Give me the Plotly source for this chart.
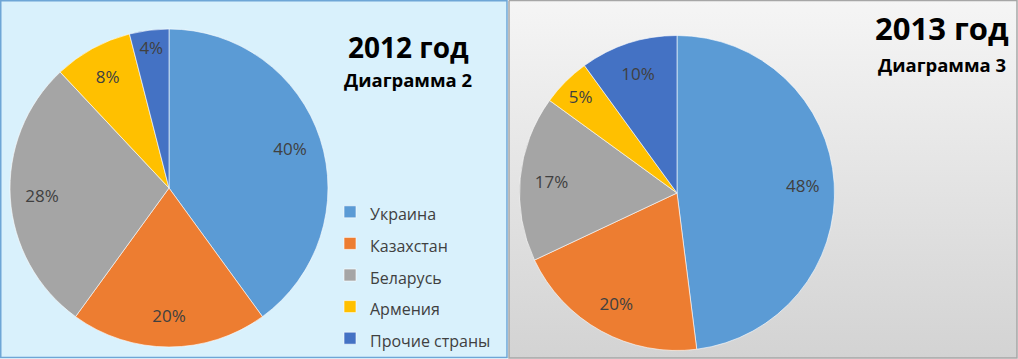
import plotly.graph_objects as go

# ---- data ----
countries = ["Украина", "Казахстан", "Беларусь", "Армения", "Прочие страны"]
share_2012 = [40, 20, 28, 8, 4]
share_2013 = [48, 20, 17, 5, 10]
colors = ["#5b9bd5", "#ed7d31", "#a5a5a5", "#ffc000", "#4472c4"]
titles = ["2012 год", "2013 год"]
subtitles = ["Диаграмма 2", "Диаграмма 3"]

W, H = 1018, 359
FONT = "Open Sans, Noto Sans, DejaVu Sans, sans-serif"
TXT = "#404040"

# legend labels: small rendered text, but large legend font for tall rows
leg_labels = [f'<span style="font-size:16px">{c}</span>' for c in countries]

fig = go.Figure()

# right panel gradient background
fig.add_trace(go.Scatter(
    x=[509, 1017, 1017, 509, 509], y=[0.5, 0.5, 358, 358, 0.5],
    mode="lines", fill="toself",
    fillgradient=dict(type="vertical", colorscale=[[0, "#d3d3d3"], [1, "#f5f5f5"]],
                      start=358, stop=0),
    line=dict(color="#a6a6a6", width=1.5),
    hoverinfo="skip", showlegend=False, xaxis="x", yaxis="y"))


def pie_domain(cx, cy, r):
    return dict(x=[(cx - r) / W, (cx + r) / W], y=[(H - cy - r) / H, (H - cy + r) / H])


for i, (vals, dom, leg) in enumerate([
        (share_2012, pie_domain(169, 188, 159), "legend"),
        (share_2013, pie_domain(677, 193, 157.5), "legend2")]):
    # coloured slices
    fig.add_trace(go.Pie(
        labels=leg_labels, values=vals, sort=False, direction="clockwise", rotation=0,
        marker=dict(colors=colors, line=dict(color="rgba(255,255,255,0.6)", width=1)),
        textinfo="none", domain=dom, legend=leg, hoverinfo="label+percent"))
    # transparent ring carrying the data labels near the rim
    fig.add_trace(go.Pie(
        labels=leg_labels, values=vals, sort=False, direction="clockwise", rotation=0,
        hole=0.6, showlegend=False,
        marker=dict(colors=["rgba(0,0,0,0)"] * len(vals), line=dict(width=0)),
        texttemplate="%{value}%", textposition="inside", insidetextorientation="horizontal",
        textfont=dict(family=FONT, size=17, color=TXT),
        domain=dom, hoverinfo="skip"))

for k, (tx, ty_title, ty_sub, size) in enumerate([(408, 47, 80, 28), (942, 28, 65, 31)]):
    fig.add_annotation(x=tx / W, y=1 - ty_title / H, xref="paper", yref="paper",
                       text=f"<b>{titles[k]}</b>", showarrow=False,
                       font=dict(family=FONT, size=size, color="#000000"),
                       xanchor="center", yanchor="middle")
    fig.add_annotation(x=tx / W, y=1 - ty_sub / H, xref="paper", yref="paper",
                       text=f"<b>{subtitles[k]}</b>", showarrow=False,
                       font=dict(family=FONT, size=18.5, color="#000000"),
                       xanchor="center", yanchor="middle")

legend_common = dict(font=dict(family=FONT, size=22, color=TXT), bgcolor="rgba(0,0,0,0)",
                     xanchor="left", yanchor="top", itemwidth=30, tracegroupgap=0)

fig.update_layout(
    width=W, height=H, margin=dict(l=0, r=0, t=0, b=0, autoexpand=False),
    paper_bgcolor="#ffffff", plot_bgcolor="rgba(0,0,0,0)",
    showlegend=True,
    xaxis=dict(range=[0, W], visible=False, domain=[0, 1], fixedrange=True),
    yaxis=dict(range=[H, 0], visible=False, domain=[0, 1], fixedrange=True),
    legend=dict(x=(370 - 40) / W, y=1 - 191 / H, **legend_common),
    legend2=dict(x=(882 - 40) / W, y=1 - 191 / H, **legend_common),
    shapes=[dict(type="rect", xref="x", yref="y", x0=0.75, y0=0.75, x1=507, y1=357.5,
                 fillcolor="#d9f1fc", line=dict(color="#6ea6d6", width=1.5), layer="below")],
)

fig.write_html("out.html", config={"displayModeBar": False},
               post_script="document.body.style.margin='0';document.body.style.overflow='hidden';")
